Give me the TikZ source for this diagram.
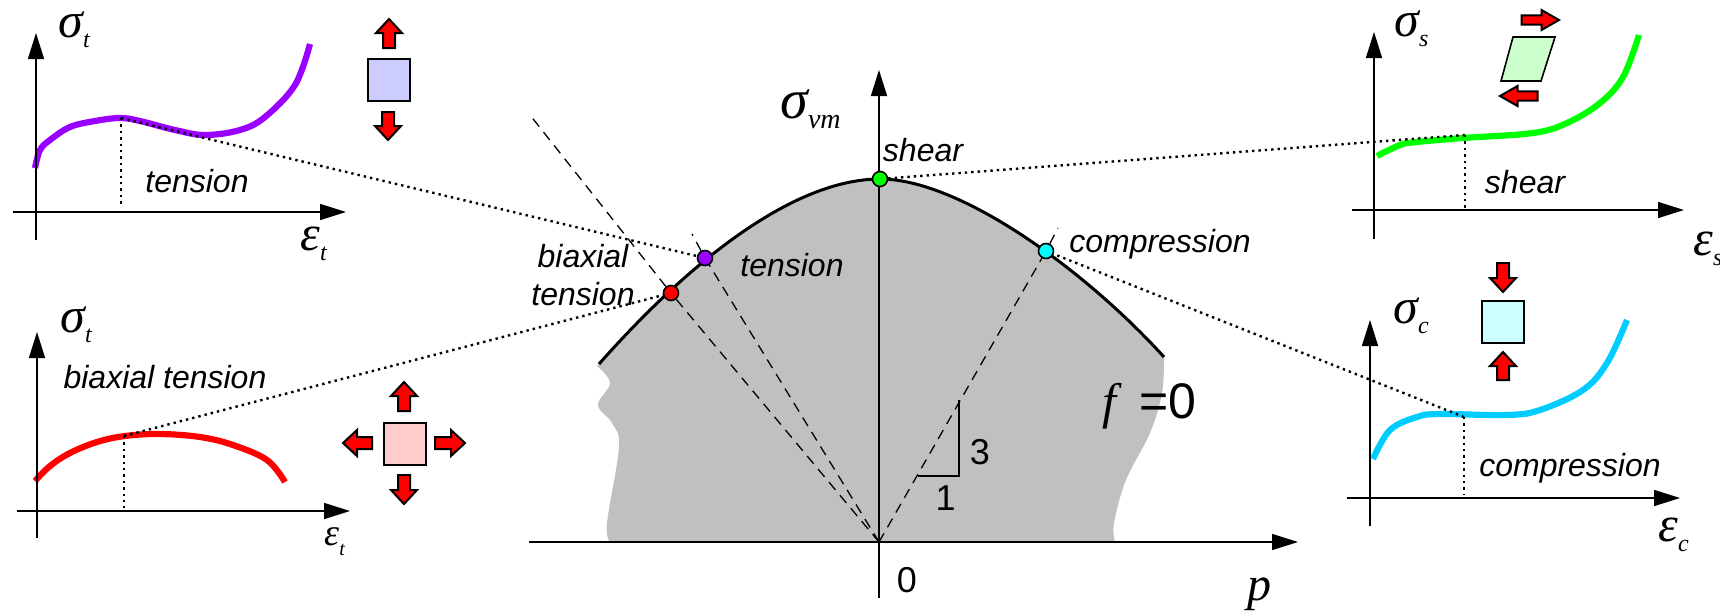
\documentclass[tikz,border=0pt]{standalone}
\usepackage{fontspec}
\setmainfont{Liberation Sans}
\newfontfamily\tiempos{Liberation Serif}
\usetikzlibrary{arrows.meta}
\definecolor{grisF}{HTML}{C0C0C0}
\definecolor{moradoT}{HTML}{9900FF}
\definecolor{verdeS}{HTML}{00FF00}
\definecolor{azulC}{HTML}{00CCFF}
\definecolor{cianP}{HTML}{00FFFF}
\definecolor{cajaT}{HTML}{CCCCFF}
\definecolor{cajaB}{HTML}{FFCCCC}
\definecolor{cajaS}{HTML}{CCFFCC}
\definecolor{cajaC}{HTML}{CCFFFF}
\tikzset{
  eje/.style={line width=0.8pt,-{Triangle[length=13pt,width=8pt]}},
  curvaG/.style={line width=3.1pt},
  punteada/.style={line width=1.2pt,dash pattern=on 1.2pt off 2pt},
  rayas/.style={line width=0.65pt,dash pattern=on 5pt off 3.5pt},
  punto/.style={circle,draw=black,line width=0.8pt,minimum size=7.5pt,inner sep=0pt},
  cuadro/.style={draw=black,line width=1pt,minimum size=21pt,inner sep=0pt},
  rotulo/.style={font=\fontsize{16}{19}\selectfont\itshape,align=center,inner sep=0pt},
  cifra/.style={font=\fontsize{18}{18}\selectfont,inner sep=0pt},
  magnitud/.style={inner sep=0pt,anchor=base west}
}
% etiqueta de eje: simbolo, subindice, tamano del simbolo, tamano del subindice
\newcommand{\etiq}[4]{{\tiempos\itshape\fontsize{#3}{#3}\selectfont #1\raisebox{-5pt}{\fontsize{#4}{#4}\selectfont #2}}}
% flecha roja: punta en (x,y), giro, largo
\newcommand{\flechaRoja}[5][]{%
  \begin{scope}[shift={(#2,#3)},rotate=#4,#1]
    \filldraw[fill=red,draw=black,line width=1pt,line join=miter] (0,0) -- (13,14) -- (6,14) -- (6,#5) -- (-6,#5) -- (-6,14) -- (-13,14) -- cycle;
  \end{scope}}
% ejes de una curva: nombre, origen, extremos
\newcommand{\ejesCurva}[7]{%
  \coordinate (#1O) at (#2,#3);
  \coordinate (#1I) at (#4,#3);
  \coordinate (#1D) at (#5,#3);
  \coordinate (#1A) at (#2,#6);
  \coordinate (#1B) at (#2,#7);
  \draw[eje] (#1I) -- (#1D);
  \draw[eje] (#1B) -- (#1A);
}
\begin{document}
\begin{tikzpicture}[x=0.5pt,y=-0.5pt]
  \useasboundingbox (0,0) rectangle (1720,612);
  % superficie de fluencia
  \fill[grisF] (599,364) .. controls (700,250) and (800,179) .. (880,179) .. controls (960,179) and (1085,270) .. (1164,357)
    -- plot[smooth,tension=0.6] coordinates {(1164,357) (1162,393) (1150,433) (1126,480) (1114,523) (1115,542)}
    -- plot[smooth,tension=0.6] coordinates {(610,542) (607,523) (619,447) (612,423) (598,405) (610,383) (597,366)} -- cycle;
  \draw[line width=1.5pt] (599,364) .. controls (700,250) and (800,179) .. (880,179) .. controls (960,179) and (1085,270) .. (1164,357);
  % curvas
  \draw[curvaG,moradoT] plot[smooth,tension=0.6] coordinates {(35,168) (40,150) (50,140) (70,127) (95,121) (120,118) (140,121) (175,130) (205,135) (240,130) (265,117) (295,85) (310,44)};
  \draw[curvaG,red] plot[smooth,tension=0.6] coordinates {(35,481) (50,466) (70,453) (97,442) (125,436) (160,434) (200,437) (233,445) (267,460) (285,482)};
  \draw[curvaG,verdeS] plot[smooth,tension=0.6] coordinates {(1377,156) (1400,145) (1417,142) (1463,138) (1533,133) (1567,123) (1600,103) (1623,77) (1639,35)};
  \draw[curvaG,azulC] plot[smooth,tension=0.6] coordinates {(1373,459) (1390,430) (1417,417) (1440,414) (1507,415) (1540,410) (1583,390) (1607,363) (1627,320)};
  % ejes
  \ejesCurva{ejeT}{36}{212}{13}{346}{33}{240}
  \ejesCurva{ejeB}{37}{511}{17}{350}{332}{538}
  \ejesCurva{ejeS}{1374}{210}{1352}{1684}{32}{239}
  \ejesCurva{ejeC}{1370}{498}{1347}{1680}{320}{526}
  \ejesCurva{ejeP}{879}{542}{529}{1298}{70}{598}
  % puntos sobre la superficie
  \node[punto,fill=moradoT] (ptoT) at (705,258) {};
  \node[punto,fill=red]     (ptoB) at (671,293) {};
  \node[punto,fill=verdeS]  (ptoS) at (880,179) {};
  \node[punto,fill=cianP]   (ptoC) at (1046,251) {};
  % meridianos
  \coordinate (finT) at (692,234);
  \coordinate (finB) at (530,115);
  \coordinate (finC) at (1058,228);
  \draw[rayas] (ejePO) -- (ptoT);
  \draw[rayas] (ptoT) -- (finT);
  \draw[rayas] (ejePO) -- (ptoB);
  \draw[rayas] (ptoB) -- (finB);
  \draw[rayas] (ejePO) -- (ptoC);
  \draw[rayas] (ptoC) -- (finC);
  % enlaces punteados
  \coordinate (curT) at (121,118);
  \coordinate (curB) at (124,436);
  \coordinate (curS) at (1465,135);
  \coordinate (curC) at (1464,417);
  \coordinate (pieT) at (121,205);
  \coordinate (pieB) at (124,508);
  \coordinate (pieS) at (1465,210);
  \coordinate (pieC) at (1464,495);
  \draw[punteada] (curT) -- (ptoT);
  \draw[punteada] (curB) -- (ptoB);
  \draw[punteada] (curS) -- (ptoS);
  \draw[punteada] (curC) -- (ptoC);
  \draw[punteada] (curT) -- (pieT);
  \draw[punteada] (curB) -- (pieB);
  \draw[punteada] (curS) -- (pieS);
  \draw[punteada] (curC) -- (pieC);
  % triangulo 1:3
  \coordinate (triA) at (959,400);
  \coordinate (triE) at (959,476);
  \coordinate (triI) at (917.5,476);
  \draw[line width=0.7pt] (triA) -- (triE) -- (triI);
  % cuadros con flechas
  \node[cuadro,fill=cajaT] (cuadroT) at (389,80) {};
  \flechaRoja{389}{19}{0}{29}
  \flechaRoja{388}{140}{180}{28}
  \node[cuadro,fill=cajaB] (cuadroB) at (404.5,443.5) {};
  \flechaRoja{404}{382}{0}{29}
  \flechaRoja{404}{504}{180}{29}
  \flechaRoja{343}{443}{90}{29}
  \flechaRoja{465}{443}{-90}{30}
  \node[cuadro,fill=cajaC] (cuadroC) at (1502.5,321.5) {};
  \flechaRoja{1503}{292}{180}{29}
  \flechaRoja{1503}{352}{0}{28}
  \filldraw[fill=cajaS,draw=black,line width=0.8pt] (1513,37) -- (1555,37) -- (1541,81) -- (1501,81) -- cycle;
  \flechaRoja[xscale=0.77,yscale=1.25]{1559}{20}{-90}{30}
  \flechaRoja[xscale=0.77,yscale=1.25]{1500}{96}{90}{30}
  % textos
  \node[magnitud] (sigT) at (58,37)   {\etiq{σ}{t}{25}{12}};
  \node[magnitud] (epsT) at (300,250) {\etiq{ε}{t}{25}{12}};
  \node[magnitud] (sigB) at (60,332)  {\etiq{σ}{t}{25}{12}};
  \node[magnitud] (epsB) at (324,545) {\etiq{ε}{t}{19}{10}};
  \node[magnitud] (sigS) at (1394,36) {\etiq{σ}{s}{25}{12}};
  \node[magnitud] (epsS) at (1693,255) {\etiq{ε}{s}{25}{12}};
  \node[magnitud] (sigC) at (1393,323) {\etiq{σ}{c}{25}{12}};
  \node[magnitud] (epsC) at (1658,541) {\etiq{ε}{c}{25}{12}};
  \node[magnitud] (sigP) at (780,118) {\etiq{σ}{vm}{28}{14}};
  \node[magnitud] (letraP) at (1247,600) {\etiq{p}{}{24}{12}};
  \node[rotulo] (txtT) at (197,181) {tension};
  \node[rotulo] (txtB) at (165,377) {biaxial tension};
  \node[rotulo] (txtS) at (1525,182) {shear};
  \node[rotulo] (txtC) at (1570,468) {compression};
  \node[rotulo] (supS) at (923,150) {shear};
  \node[rotulo] (supT) at (792,265) {tension};
  \node[rotulo] (supC) at (1160,244) {compression};
  \node[rotulo] (supB) at (583,275) {biaxial\\tension};
  \node[cifra] (cifraTres) at (980,452) {3};
  \node[cifra] (cifraUno) at (945.6,498) {1};
  \node[cifra] (cifraCero) at (907,580) {0};
  \node[inner sep=0pt,anchor=base west,font=\fontsize{25}{25}\selectfont] (fCero) at (1102,418) {{\tiempos\itshape f}\hspace{11.5pt}=0};
\end{tikzpicture}
\end{document}
